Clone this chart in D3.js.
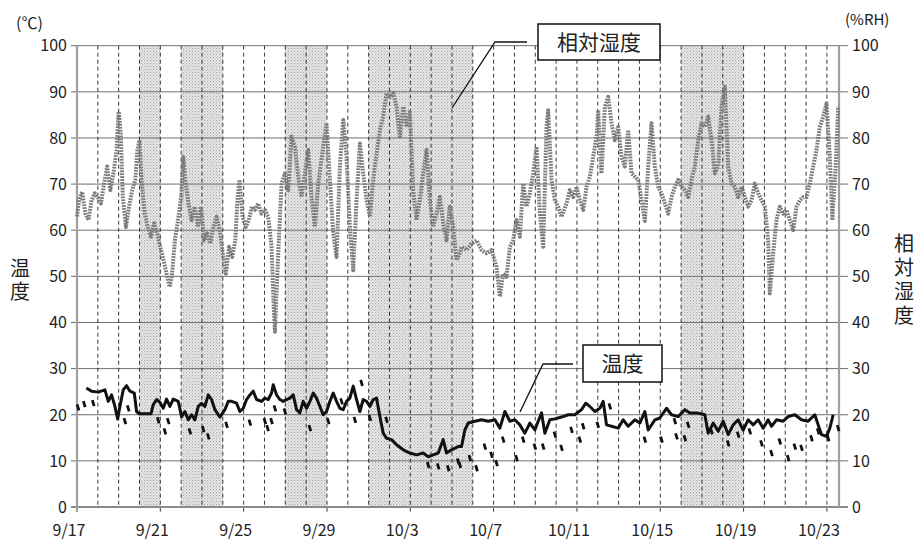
<!DOCTYPE html>
<html>
<head>
<meta charset="utf-8">
<script src="https://cdn.jsdelivr.net/npm/d3@7"></script>
<style>
  body { margin: 0; background: #fff; }
  svg text { font-family: "Noto Sans CJK JP", "DejaVu Sans", sans-serif; fill: #222; }
</style>
</head>
<body>
<svg id="chart"></svg>
<script>
const width = 920, height = 541;
const margin = { top: 45.7, right: 81, bottom: 34, left: 77 };

// x = days since 9/17 0:00
const startDate = new Date(2011, 8, 17);
const lastDay = 36.58;
const xTickDays = [0, 4, 8, 12, 16, 20, 24, 28, 32, 36];
const yTicks = [0, 10, 20, 30, 40, 50, 60, 70, 80, 90, 100];

// shaded periods [from, to] in days
const shadedDays = [[3, 4], [5, 7], [10, 12], [14, 19], [29, 32]];

// relative humidity (%RH)
const humidity = [
  [0.0, 63], [0.1, 66.5], [0.25, 68.3], [0.4, 63.6], [0.55, 62.2], [0.7, 66.5], [0.85, 68],
  [1.0, 67.2], [1.15, 65.8], [1.3, 70.1], [1.45, 73.8], [1.6, 68.7], [1.75, 72.3], [1.9, 77.4],
  [2.0, 85.7], [2.1, 81], [2.2, 67.2], [2.35, 60.7], [2.5, 65.1], [2.65, 68.7], [2.8, 70.9],
  [2.9, 77.4], [3.0, 79.5], [3.1, 70.9], [3.25, 63.6], [3.4, 60.7], [3.55, 58.6], [3.7, 61.5],
  [3.85, 59.3], [4.0, 56.4], [4.15, 53.5], [4.3, 50.6], [4.45, 47.7], [4.55, 49.9], [4.7, 57.8],
  [4.85, 62.2], [5.0, 67.2], [5.1, 75.9], [5.2, 70.9], [5.35, 65.8], [5.5, 62.2], [5.65, 65.1],
  [5.8, 60.7], [5.95, 65.1], [6.1, 57.8], [6.25, 59.3], [6.4, 57.1], [6.55, 60.7], [6.7, 62.9],
  [6.85, 60], [7.0, 55], [7.15, 50.6], [7.3, 56.4], [7.45, 54.2], [7.6, 57.8], [7.7, 66.5],
  [7.8, 70.9], [7.95, 62.9], [8.1, 60.7], [8.25, 62.2], [8.4, 65.1], [8.55, 64.4], [8.7, 65.8],
  [8.85, 63.6], [9.02, 64.4], [9.18, 62.9], [9.34, 56.4], [9.42, 46.3], [9.5, 38], [9.66, 55],
  [9.82, 70.1], [9.98, 72.3], [10.14, 68.7], [10.3, 80.3], [10.46, 78.1], [10.62, 71.6],
  [10.78, 67.2], [10.94, 72.3], [11.1, 77.4], [11.26, 67.2], [11.42, 60.7], [11.58, 70.1],
  [11.82, 78.1], [11.98, 83.2], [12.14, 70.9], [12.3, 59.3], [12.46, 54.2], [12.62, 73.8],
  [12.78, 83.9], [12.94, 75.9], [13.1, 60.7], [13.26, 51.3], [13.42, 66.5], [13.58, 78.8],
  [13.74, 72.3], [13.9, 66.5], [14.06, 62.9], [14.22, 70.9], [14.38, 76.6], [14.54, 81.7],
  [14.7, 84.6], [14.86, 89.7], [15.02, 88.9], [15.18, 89.7], [15.34, 86.8], [15.5, 80.3],
  [15.66, 86.8], [15.82, 82.4], [15.98, 86], [16.14, 68.7], [16.3, 62.2], [16.46, 66.5],
  [16.62, 72.3], [16.78, 77.4], [16.94, 66.5], [17.1, 60.7], [17.26, 63.6], [17.42, 67.2],
  [17.58, 61.5], [17.74, 57.8], [17.9, 65.1], [18.06, 60.7], [18.22, 53.5], [18.38, 55],
  [18.46, 56.4], [18.7, 55.7], [18.94, 57.1], [19.18, 57.8], [19.42, 55.7], [19.66, 55],
  [19.9, 55.7], [20.14, 52.1], [20.3, 45.6], [20.46, 50.6], [20.62, 49.9], [20.78, 56.4],
  [20.94, 57.8], [21.1, 62.2], [21.26, 58.6], [21.42, 70.1], [21.58, 65.1], [21.74, 68],
  [21.9, 72.3], [22.06, 78.1], [22.22, 63.6], [22.38, 56.4], [22.54, 82.4], [22.62, 86],
  [22.78, 70.9], [22.94, 66.5], [23.1, 65.1], [23.26, 62.9], [23.5, 65.8], [23.66, 68.7],
  [23.82, 67.2], [23.98, 69.4], [24.14, 66.5], [24.3, 64.4], [24.46, 69.4], [24.62, 71.6],
  [24.78, 75.9], [24.94, 80.3], [25.02, 86], [25.18, 72.3], [25.34, 86.8], [25.5, 88.9],
  [25.66, 83.2], [25.82, 79.5], [25.98, 82.4], [26.14, 75.9], [26.3, 73.8], [26.46, 81.7],
  [26.62, 72.3], [26.78, 71.6], [26.94, 70.9], [27.1, 66.5], [27.26, 62], [27.42, 73.8],
  [27.58, 83.2], [27.74, 73.8], [27.9, 69.4], [28.06, 68], [28.22, 65.8], [28.38, 63.6],
  [28.54, 67.2], [28.7, 69.4], [28.86, 70.9], [29.02, 69.4], [29.18, 68.7], [29.34, 67.2],
  [29.5, 70.9], [29.66, 73.8], [29.82, 79.5], [29.98, 83.2], [30.14, 82.4], [30.3, 84.6],
  [30.46, 79.5], [30.62, 72.3], [30.78, 73.8], [30.94, 86.8], [31.1, 91.1], [31.26, 73.8],
  [31.42, 70.1], [31.58, 69.4], [31.74, 67.2], [31.9, 69.4], [32.06, 67.2], [32.22, 65.1],
  [32.38, 66.5], [32.54, 70.1], [32.7, 68], [32.86, 66.5], [33.02, 65.1], [33.18, 57.8],
  [33.26, 46.3], [33.42, 55], [33.58, 62.2], [33.74, 65.1], [33.9, 63.6], [34.06, 64.4],
  [34.22, 62.2], [34.38, 60], [34.54, 65.1], [34.7, 66.5], [34.86, 67.2], [35.02, 67.2],
  [35.18, 70.1], [35.34, 73.8], [35.5, 77.4], [35.66, 82.4], [35.82, 84.6], [35.98, 87.5],
  [36.14, 75.9], [36.26, 62.2], [36.42, 73.8], [36.54, 86.8]
];

// temperature (℃), main trace
const temperature = [
  [0.45, 25.8], [0.7, 25.1], [1.02, 24.9], [1.34, 25.4], [1.5, 22.9], [1.66, 24.3], [1.82, 21.8],
  [1.95, 19.1], [2.06, 21.8], [2.22, 25.4], [2.38, 26.3], [2.54, 25.1], [2.75, 24.7], [2.86, 20.7],
  [2.99, 20.2], [3.26, 20.2], [3.55, 20.2], [3.66, 22.2], [3.82, 23.3], [3.98, 22.7], [4.14, 21.4],
  [4.3, 23.4], [4.46, 21.8], [4.62, 23.4], [4.86, 22.9], [5.02, 19.6], [5.18, 20.7], [5.34, 18.9],
  [5.5, 20], [5.66, 18.9], [5.82, 21.8], [5.98, 22.5], [6.14, 21.8], [6.3, 24.3], [6.46, 23.3],
  [6.62, 21.1], [6.86, 19.5], [7.1, 21.1], [7.26, 22.9], [7.42, 22.9], [7.66, 22.5], [7.82, 20.7],
  [7.98, 21.4], [8.14, 23.3], [8.3, 24.3], [8.46, 25.1], [8.62, 23.3], [8.86, 22.9], [9.02, 23.6],
  [9.18, 23.3], [9.34, 24.7], [9.42, 26.5], [9.58, 24.3], [9.74, 23.3], [9.9, 22.9], [10.06, 23.3],
  [10.22, 23.6], [10.38, 24.3], [10.54, 21.1], [10.7, 20.4], [10.86, 22.9], [11.02, 21.4],
  [11.18, 22.9], [11.34, 24.7], [11.5, 23.6], [11.66, 21.8], [11.82, 20], [11.98, 20.7],
  [12.14, 22.9], [12.3, 24.7], [12.46, 22.9], [12.62, 21.4], [12.78, 21.1], [12.94, 22.9],
  [13.1, 23.6], [13.26, 26.2], [13.42, 23.3], [13.58, 20.7], [13.74, 23.3], [13.9, 22.9],
  [14.06, 21.8], [14.22, 23.3], [14.38, 23.6], [14.54, 19.6], [14.7, 16], [14.86, 14.9],
  [15.1, 14.6], [15.34, 13.5], [15.66, 12.4], [15.98, 11.7], [16.3, 11.3], [16.62, 11.7],
  [16.86, 10.9], [17.1, 11.3], [17.34, 11.7], [17.58, 14.6], [17.74, 11.7], [17.98, 12.4],
  [18.3, 13.1], [18.46, 13.1], [18.62, 16.7], [18.78, 18.2], [19.1, 18.6], [19.42, 18.9],
  [19.74, 18.6], [20.06, 18.9], [20.3, 17.1], [20.54, 20.7], [20.78, 18.6], [21.02, 18.9],
  [21.26, 17.8], [21.5, 16], [21.74, 18.2], [21.98, 16.7], [22.14, 18.6], [22.3, 20.4],
  [22.46, 16], [22.7, 18.9], [22.94, 19.1], [23.26, 19.5], [23.58, 20], [23.9, 20],
  [24.22, 21.1], [24.42, 22.5], [24.62, 21.8], [24.86, 20.7], [25.1, 21.4], [25.26, 22.9],
  [25.42, 17.8], [25.66, 17.5], [25.98, 17.1], [26.22, 18.9], [26.46, 17.5], [26.78, 18.9],
  [27.02, 18.2], [27.26, 20.7], [27.42, 16.7], [27.74, 18.9], [27.98, 19.3], [28.3, 21.4],
  [28.54, 20], [28.86, 19.6], [29.18, 21.1], [29.42, 20.4], [29.74, 20.4], [30.14, 20],
  [30.3, 16], [30.54, 18.2], [30.78, 16.4], [31.02, 18.6], [31.26, 15.7], [31.5, 17.8],
  [31.74, 18.9], [31.98, 16.7], [32.22, 18.9], [32.46, 17.8], [32.7, 18.9], [32.94, 17.1],
  [33.18, 18.9], [33.34, 17.5], [33.58, 18.9], [33.9, 18.6], [34.14, 19.6], [34.46, 20],
  [34.78, 18.9], [35.1, 18.6], [35.42, 20], [35.58, 17.8], [35.74, 15.7], [35.98, 15.3],
  [36.14, 17.1], [36.3, 20]
];

// temperature, isolated low readings (short dashes under the trace)
const temperatureLows = [
  [0.05, 21.6], [0.35, 22.3], [0.78, 22.5], [2.3, 18.6], [2.46, 21.4], [3.9, 18.8], [4.22, 16.4],
  [4.38, 18.6], [5.42, 16.4], [6.06, 16.9], [6.3, 15.3], [7.18, 17.8], [8.3, 18.3], [9.02, 18.6],
  [9.15, 17.1], [9.34, 18.6], [9.5, 21.4], [9.98, 20.7], [11.18, 17.1], [12.06, 18.6],
  [12.7, 22.9], [13.34, 18.9], [13.66, 26.9], [14.06, 19.3], [14.86, 18.9], [16.86, 9.1],
  [17.34, 8.8], [17.82, 8.4], [18.3, 9.9], [18.38, 9.1], [18.86, 10.6], [19.18, 8.4],
  [19.58, 13.1], [19.9, 11.3], [20.14, 9.5], [20.46, 14.6], [21.1, 10.6], [21.42, 14.6],
  [21.98, 13.1], [22.38, 13.1], [22.94, 15.7], [23.26, 12.8], [23.74, 16.7], [24.14, 14.6],
  [24.3, 17.5], [25.0, 17.8], [25.58, 21.8], [27.26, 14.6], [28.06, 14.6], [28.7, 18.6],
  [28.78, 15.3], [29.18, 14.9], [29.34, 17.8], [30.46, 16.4], [31.26, 13.8], [31.74, 15.7],
  [32.3, 16.4], [32.86, 13.8], [33.34, 11.7], [33.74, 14.2], [34.14, 10.6], [34.46, 13.1],
  [34.78, 12.8], [35.26, 14.9], [35.58, 16.4], [36.06, 14.9], [36.54, 17.1]
];

const svg = d3.select("#chart")
  .attr("width", width)
  .attr("height", height);

const x = d3.scaleLinear().domain([0, lastDay]).range([margin.left, width - margin.right]);
const y = d3.scaleLinear().domain([0, 100]).range([height - margin.bottom, margin.top]);
const fmt = d3.timeFormat("%-m/%-d");
const dayDate = d => d3.timeDay.offset(startDate, d);

// dotted fill for the shaded periods
const defs = svg.append("defs");
const pat = defs.append("pattern")
  .attr("id", "dots")
  .attr("width", 3).attr("height", 3)
  .attr("patternUnits", "userSpaceOnUse");
pat.append("rect").attr("width", 3).attr("height", 3).attr("fill", "#ececec");
pat.append("rect").attr("x", 0).attr("y", 0).attr("width", 1.2).attr("height", 1.2).attr("fill", "#a8a8a8");
pat.append("rect").attr("x", 1.5).attr("y", 1.5).attr("width", 1.2).attr("height", 1.2).attr("fill", "#bdbdbd");

svg.append("g").selectAll("rect")
  .data(shadedDays)
  .join("rect")
  .attr("x", d => x(d[0]))
  .attr("width", d => x(d[1]) - x(d[0]))
  .attr("y", y(100))
  .attr("height", y(0) - y(100))
  .attr("fill", "url(#dots)");

// horizontal gridlines with outside ticks on both sides
svg.append("g").selectAll("line")
  .data(yTicks.filter(t => t > 0))
  .join("line")
  .attr("x1", margin.left - 6)
  .attr("x2", width - margin.right + 9)
  .attr("y1", d => y(d))
  .attr("y2", d => y(d))
  .attr("stroke", "#6f6f6f")
  .attr("stroke-width", 1);

// daily dashed lines
const days = d3.range(1, 37);
svg.append("g").selectAll("line")
  .data(days)
  .join("line")
  .attr("x1", d => x(d))
  .attr("x2", d => x(d))
  .attr("y1", y(100))
  .attr("y2", d => xTickDays.includes(d) ? y(0) + 6 : y(0))
  .attr("stroke", "#222")
  .attr("stroke-width", 0.9)
  .attr("stroke-dasharray", "4,3");

// axes frame
svg.append("line")
  .attr("x1", margin.left - 6).attr("x2", width - margin.right + 9)
  .attr("y1", y(0)).attr("y2", y(0))
  .attr("stroke", "#8a8a8a").attr("stroke-width", 2);
svg.append("line")
  .attr("x1", x(0)).attr("x2", x(0))
  .attr("y1", y(100)).attr("y2", y(0) + 5)
  .attr("stroke", "#a0a0a0").attr("stroke-width", 2.2);
svg.append("line")
  .attr("x1", x(lastDay)).attr("x2", x(lastDay))
  .attr("y1", y(100)).attr("y2", y(0))
  .attr("stroke", "#a0a0a0").attr("stroke-width", 2.2);

// humidity: dense dotted gray trace
const line = d3.line().x(d => x(d[0])).y(d => y(d[1]));
svg.append("path")
  .datum(humidity)
  .attr("d", line)
  .attr("fill", "none")
  .attr("stroke", "#7c7c7c")
  .attr("stroke-width", 4)
  .attr("stroke-dasharray", "1.8,1.1")
  .attr("stroke-linejoin", "round");

// temperature
svg.append("g").selectAll("line")
  .data(temperatureLows)
  .join("line")
  .attr("x1", d => x(d[0]) - 0.9)
  .attr("x2", d => x(d[0]) + 0.9)
  .attr("y1", d => y(d[1]) - 3)
  .attr("y2", d => y(d[1]) + 3)
  .attr("stroke", "#111")
  .attr("stroke-width", 2.8);

svg.append("path")
  .datum(temperature)
  .attr("d", line)
  .attr("fill", "none")
  .attr("stroke", "#111")
  .attr("stroke-width", 3)
  .attr("stroke-linejoin", "round");

// tick labels
svg.append("g").selectAll("text")
  .data(yTicks)
  .join("text")
  .attr("x", margin.left - 10)
  .attr("y", d => y(d))
  .attr("dy", "0.36em")
  .attr("text-anchor", "end")
  .attr("font-size", 16)
  .text(d => d);

svg.append("g").selectAll("text")
  .data(yTicks)
  .join("text")
  .attr("x", width - margin.right + 13)
  .attr("y", d => y(d))
  .attr("dy", "0.36em")
  .attr("text-anchor", "start")
  .attr("font-size", 16)
  .text(d => d);

svg.append("g").selectAll("text")
  .data(xTickDays)
  .join("text")
  .attr("x", d => x(d) - 8)
  .attr("y", 536)
  .attr("text-anchor", "middle")
  .attr("font-size", 16)
  .text(d => fmt(dayDate(d)));

// units
svg.append("text").attr("x", 16).attr("y", 29).attr("font-size", 16).text("(℃)");
svg.append("text").attr("x", 845).attr("y", 25).attr("font-size", 15).text("(%RH)");

// vertical axis titles (vertical writing)
svg.append("text")
  .attr("x", 20)
  .attr("y", 258)
  .attr("writing-mode", "tb")
  .attr("letter-spacing", 3)
  .attr("font-size", 20)
  .text("温度");

svg.append("text")
  .attr("x", 904)
  .attr("y", 233)
  .attr("writing-mode", "tb")
  .attr("letter-spacing", 4)
  .attr("font-size", 20)
  .text("相対湿度");

// callout boxes
function callout(box, label, leader) {
  svg.append("polyline")
    .attr("points", leader.map(p => p.join(",")).join(" "))
    .attr("fill", "none")
    .attr("stroke", "#111")
    .attr("stroke-width", 1.3);
  svg.append("rect")
    .attr("x", box[0]).attr("y", box[1])
    .attr("width", box[2]).attr("height", box[3])
    .attr("fill", "#fff")
    .attr("stroke", "#111")
    .attr("stroke-width", 1.5);
  svg.append("text")
    .attr("x", box[0] + box[2] / 2)
    .attr("y", box[1] + box[3] / 2)
    .attr("dy", "0.36em")
    .attr("text-anchor", "middle")
    .attr("font-size", 21)
    .text(label);
}

callout([538, 24, 122, 36], "相対湿度", [[452, 108], [495, 42], [527, 42]]);
callout([583, 345, 79, 37], "温度", [[520, 412], [543, 364], [573, 364]]);
</script>
</body>
</html>
